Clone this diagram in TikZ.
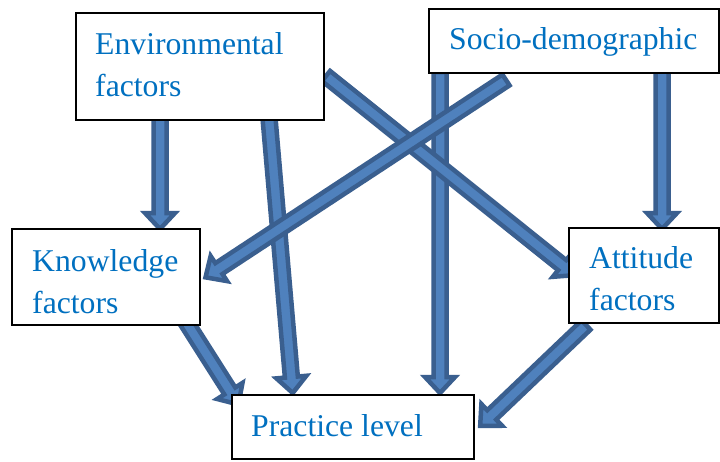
\documentclass[tikz,border=0pt]{standalone}
\usepackage{fontspec}
\setmainfont{Liberation Serif}
\newfontfamily\boxfont{Liberation Serif}
\usetikzlibrary{calc}

\definecolor{arrowfill}{HTML}{4F81BD}
\definecolor{arrowedge}{HTML}{3A5F8F}
\definecolor{labelblue}{HTML}{0070C0}

\pgfdeclarelayer{background}
\pgfsetlayers{background,main}

\tikzset{
  box/.style={draw=black, line width=1.2pt, fill=white, rectangle,
              inner sep=0pt, outer sep=0pt, anchor=north west},
  lbl/.style={text=labelblue, font=\boxfont\fontsize{31.7}{42}\selectfont,
              align=left, inner sep=0pt, anchor=north west},
  blockarrow/.style={fill=arrowfill, draw=arrowedge, line width=4.5pt,
                     line join=miter, miter limit=10},
}

% geometry of the block arrows
\newcommand\shaftw{6.5pt}
\newcommand\headw{15pt}
\newcommand\headl{16pt}

% thick block arrow from coordinate #1 to coordinate #2
\newcommand\blockarrow[2]{%
  \coordinate (ba-tip) at ($(#2)!3pt!(#1)$);
  \coordinate (ba-base) at ($(ba-tip)!\headl!(#1)$);
  \path[blockarrow]
    ($(#1)!\shaftw!90:(#2)$) --
    ($(ba-base)!\shaftw!-90:(#1)$) --
    ($(ba-base)!\headw!-90:(#1)$) --
    (ba-tip) --
    ($(ba-base)!\headw!90:(#1)$) --
    ($(ba-base)!\shaftw!90:(#1)$) --
    ($(#1)!\shaftw!-90:(#2)$) -- cycle;
}

\begin{document}
\begin{tikzpicture}[x=1pt, y=-1pt]
  \useasboundingbox (0,0) rectangle (720,461);

  % boxes
  \node[box, minimum width=248pt, minimum height=107pt] (env) at (76,13) {};
  \node[box, minimum width=290pt, minimum height=64pt]  (soc) at (429,9) {};
  \node[box, minimum width=188pt, minimum height=96pt]  (kno) at (12,229) {};
  \node[box, minimum width=150pt, minimum height=95pt]  (att) at (569,228) {};
  \node[box, minimum width=242pt, minimum height=64pt]  (pra) at (232,395) {};

  % box texts
  \node[lbl] (env-t) at (95,32)  {Environmental\\factors};
  \node[lbl] (soc-t) at (449,27) {Socio-demographic};
  \node[lbl] (kno-t) at (32,249) {Knowledge\\factors};
  \node[lbl] (att-t) at (589,246) {Attitude\\factors};
  \node[lbl] (pra-t) at (251,414) {Practice level};

  % arrow end points
  \coordinate (e2k-s) at ($(env.south west)+(84,-2)$);
  \coordinate (e2k-t) at ($(kno.north west)+(148,3)$);
  \coordinate (e2p-s) at ($(env.south west)+(193,-2)$);
  \coordinate (e2p-t) at ($(pra.north west)+(61,1)$);
  \coordinate (e2a-s) at ($(env.north east)+(2,63)$);
  \coordinate (e2a-t) at ($(att.north west)+(8,49)$);
  \coordinate (s2k-s) at ($(soc.south west)+(77,7)$);
  \coordinate (s2k-t) at ($(kno.north east)+(3,50)$);
  \coordinate (s2p-s) at ($(soc.south west)+(11,-1)$);
  \coordinate (s2p-t) at ($(pra.north west)+(208,1)$);
  \coordinate (s2a-s) at ($(soc.south west)+(233,-3)$);
  \coordinate (s2a-t) at ($(att.north west)+(93,4)$);
  \coordinate (k2p-s) at ($(kno.south west)+(174,-3)$);
  \coordinate (k2p-t) at ($(pra.north west)+(8,12)$);
  \coordinate (a2p-s) at ($(att.south west)+(17,2)$);
  \coordinate (a2p-t) at ($(pra.north east)+(4,33)$);

  \begin{pgfonlayer}{background}
    \fill[white] (0,0) rectangle (720,461);
    \blockarrow{e2k-s}{e2k-t}
    \blockarrow{e2p-s}{e2p-t}
    \blockarrow{s2p-s}{s2p-t}
    \blockarrow{s2a-s}{s2a-t}
    \blockarrow{e2a-s}{e2a-t}
    \blockarrow{s2k-s}{s2k-t}
    \blockarrow{k2p-s}{k2p-t}
    \blockarrow{a2p-s}{a2p-t}
  \end{pgfonlayer}
\end{tikzpicture}
\end{document}
